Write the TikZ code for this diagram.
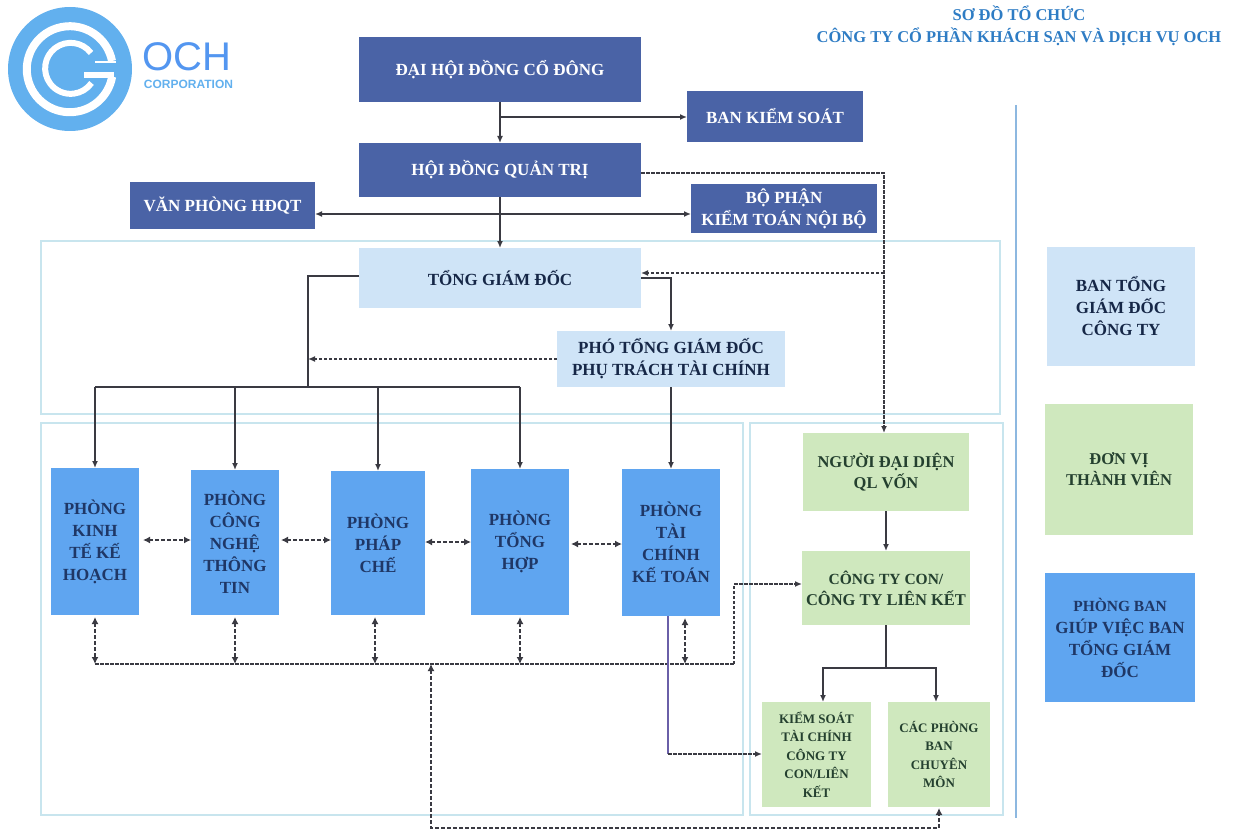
\documentclass[tikz,border=0pt]{standalone}
\usepackage{fontspec}
\setmainfont{Liberation Serif}
\usetikzlibrary{arrows.meta}
\definecolor{navybox}{HTML}{4A63A6}
\definecolor{palebox}{HTML}{CFE4F7}
\definecolor{greenbox}{HTML}{CFE8BE}
\definecolor{bluebox}{HTML}{5FA5F0}
\definecolor{inktext}{HTML}{1F3766}
\definecolor{greentext}{HTML}{24402F}
\definecolor{framecol}{HTML}{C8E5EE}
\definecolor{linecol}{HTML}{3A3A42}
\definecolor{logocol}{HTML}{62B0EE}
\definecolor{titlecol}{HTML}{2E7CC4}
\definecolor{purplecol}{HTML}{6A5FA8}
\definecolor{rulecol}{HTML}{8DB8E0}
\tikzset{
 basebox/.style={inner sep=0pt,outer sep=0pt,align=center,font=\bfseries},
 navy/.style={basebox,fill=navybox,text=white,font=\bfseries\fontsize{17}{22}\selectfont},
 pale/.style={basebox,fill=palebox,text=inktext!70!black,font=\bfseries\fontsize{17}{22}\selectfont},
 dept/.style={basebox,fill=bluebox,text=inktext,font=\bfseries\fontsize{17}{22}\selectfont},
 greenb/.style={basebox,fill=greenbox,text=greentext,font=\bfseries\fontsize{16.5}{21}\selectfont},
 greens/.style={basebox,fill=greenbox,text=greentext,font=\bfseries\fontsize{13}{18.5}\selectfont},
 frame/.style={draw=framecol,line width=1.3pt,fill=none},
 sol/.style={draw=linecol,line width=1.6pt,-{Latex[length=7pt,width=6pt]}},
 plain/.style={draw=linecol,line width=1.8pt},
 dsh/.style={draw=linecol,line width=1.7pt,dash pattern=on 3.5pt off 1.5pt,-{Latex[length=7pt,width=6pt]}},
 dbl/.style={draw=linecol,line width=1.8pt,dash pattern=on 4pt off 2pt,{Latex[length=7pt,width=7pt]}-{Latex[length=7pt,width=7pt]}},
 dshplain/.style={draw=linecol,line width=1.8pt,dash pattern=on 3.5pt off 1.5pt},
}
\newcommand{\bx}[7]{%
 \pgfmathsetmacro{\bw}{#5-#3}\pgfmathsetmacro{\bh}{#6-#4}%
 \node[#1,minimum width=\bw pt,minimum height=\bh pt] (#2) at ({(#3+#5)/2},{(#4+#6)/2}) {#7};}
\begin{document}
\begin{tikzpicture}[x=1pt,y=-1pt]
\useasboundingbox (0,0) rectangle (1237,832);
% logo
\fill[logocol] (70,69) circle (62);
\draw[white,line width=8pt] (112,61) arc (-11:-350:43);
\draw[white,line width=6pt] (91,53) arc (-37:-325:25.5);
\draw[white,line width=5.5pt] (84,75) -- (114,75);
\draw[white,line width=2.5pt] (95,62) -- (116,62);
\node[inner sep=0pt,text=logocol!85!blue,font=\fontspec{Liberation Sans}\fontsize{40}{40}\selectfont] (och) at (187,57) {OCH};
\node[inner sep=0pt,text=logocol,font=\fontspec{Liberation Sans}\bfseries\fontsize{12}{12}\selectfont] (corp) at (188.5,84) {CORPORATION};
% title
\node[inner sep=0pt,align=center,text=titlecol,font=\bfseries\fontsize{16.5}{22}\selectfont] (title) at (1019,26) {SƠ ĐỒ TỔ CHỨC\\CÔNG TY CỔ PHẦN KHÁCH SẠN VÀ DỊCH VỤ OCH};
% frames
\draw[frame] (41,241) rectangle (1000,414);
\draw[frame] (41,423) rectangle (743,815);
\draw[frame] (750,423) rectangle (1003,815);
\draw[draw=rulecol,line width=1.3pt] (1016,105) -- (1016,818);
% boxes
\bx{navy}{dh}{359}{37}{641}{102}{ĐẠI HỘI ĐỒNG CỔ ĐÔNG}
\bx{navy}{bks}{687}{91}{863}{142}{BAN KIỂM SOÁT}
\bx{navy}{hd}{359}{143}{641}{197}{HỘI ĐỒNG QUẢN TRỊ}
\bx{navy}{vp}{130}{182}{315}{229}{VĂN PHÒNG HĐQT}
\bx{navy}{kt}{691}{184}{877}{233}{BỘ PHẬN\\KIỂM TOÁN NỘI BỘ}
\bx{pale}{tgd}{359}{248}{641}{308}{TỔNG GIÁM ĐỐC}
\bx{pale}{ptgd}{557}{331}{785}{387}{PHÓ TỔNG GIÁM ĐỐC\\PHỤ TRÁCH TÀI CHÍNH}
\bx{dept}{kh}{51}{468}{139}{615}{PHÒNG\\KINH\\TẾ KẾ\\HOẠCH}
\bx{dept}{cn}{191}{470}{279}{615}{PHÒNG\\CÔNG\\NGHỆ\\THÔNG\\TIN}
\bx{dept}{pc}{331}{471}{425}{615}{PHÒNG\\PHÁP\\CHẾ}
\bx{dept}{th}{471}{469}{569}{615}{PHÒNG\\TỔNG\\HỢP}
\bx{dept}{tc}{622}{469}{720}{616}{PHÒNG\\TÀI\\CHÍNH\\KẾ TOÁN}
\bx{greenb}{nd}{803}{433}{969}{511}{NGƯỜI ĐẠI DIỆN\\QL VỐN}
\bx{greenb}{ct}{802}{551}{970}{625}{\fontsize{15.5}{21}\selectfont CÔNG TY CON/\\CÔNG TY LIÊN KẾT}
\bx{greens}{ks}{762}{702}{871}{807}{KIỂM SOÁT\\TÀI CHÍNH\\CÔNG TY\\CON/LIÊN\\KẾT}
\bx{greens}{cp}{888}{702}{990}{807}{CÁC PHÒNG\\BAN\\CHUYÊN\\MÔN}
\bx{pale}{lg1}{1047}{247}{1195}{366}{BAN TỔNG\\GIÁM ĐỐC\\CÔNG TY}
\bx{greenb}{lg2}{1045}{404}{1193}{535}{ĐƠN VỊ\\THÀNH VIÊN}
\bx{dept}{lg3}{1045}{573}{1195}{702}{\fontsize{15.5}{22}\selectfont PHÒNG BAN\\GIÚP VIỆC BAN\\TỔNG GIÁM\\ĐỐC}
% free points
\coordinate (j1) at (500,117);
\coordinate (j2) at (500,214);
\coordinate (busT) at (308,387);
\coordinate (rA) at (884,173);
\coordinate (rB) at (884,273);
\coordinate (bus1) at (95,664);
\coordinate (bus2) at (734,664);
\coordinate (busM) at (431,664);
\coordinate (low) at (431,828);
\coordinate (br) at (886,668);
\coordinate (tl) at (668,754);
% solid connectors
\draw[sol] (dh.south) -- (hd.north);
\draw[sol] (j1) -- (j1 -| bks.west);
\draw[sol] (hd.south) -- (tgd.north);
\draw[sol] (j2) -- (j2 -| vp.east);
\draw[sol] (j2) -- (j2 -| kt.west);
\draw[plain] (tgd.west |- 0,276) -- (308,276) -- (busT);
\draw[sol] (tgd.east |- 0,278) -| (ptgd.north);
\draw[plain] (kh.north |- busT) -- (th.north |- busT);
\draw[sol] (kh.north |- busT) -- (kh.north);
\draw[sol] (cn.north |- busT) -- (cn.north);
\draw[sol] (pc.north |- busT) -- (pc.north);
\draw[sol] (th.north |- busT) -- (th.north);
\draw[sol] (ptgd.south) -- (tc.north);
\draw[sol] (nd.south) -- (ct.north);
\draw[plain] (ct.south) -- (br);
\draw[sol] (br) -| (823,702);
\draw[sol] (br) -| (936,702);
% dashed connectors
\draw[dsh] (hd.east |- rA) -- (rA) -- (nd.north -| rA);
\draw[dsh] (rB) -- (tgd.east |- rB);
\draw[dsh] (ptgd.west) -- (ptgd.west -| busT);
\draw[dbl,shorten <=4pt] (kh.east |- 0,540) -- (cn.west |- 0,540);
\draw[dbl,shorten <=2pt] (cn.east |- 0,540) -- (pc.west |- 0,540);
\draw[dbl] (pc.east |- 0,542) -- (th.west |- 0,542);
\draw[dbl,shorten <=2pt] (th.east |- 0,544) -- (tc.west |- 0,544);
\draw[dshplain] (bus1) -- (bus2);
\draw[dsh] (bus2) |- (ct.west |- 0,584);
\foreach \nn in {kh,cn,th}{
 \draw[dbl,shorten <=2pt] (\nn.south) -- (\nn.south |- bus1);
}
\draw[dbl,shorten <=2pt] (pc.south -| 375,0) -- (375,664);
\draw[dbl,shorten <=2pt] (tc.south -| 685,0) -- (685,664);
\draw[dbl,shorten >=1pt] (busM) -- (low) -| (cp.south);
\draw[draw=purplecol,line width=1.2pt] (tc.south -| tl) -- (tl);
\draw[dsh] (tl) -- (ks.west |- tl);
\end{tikzpicture}
\end{document}
